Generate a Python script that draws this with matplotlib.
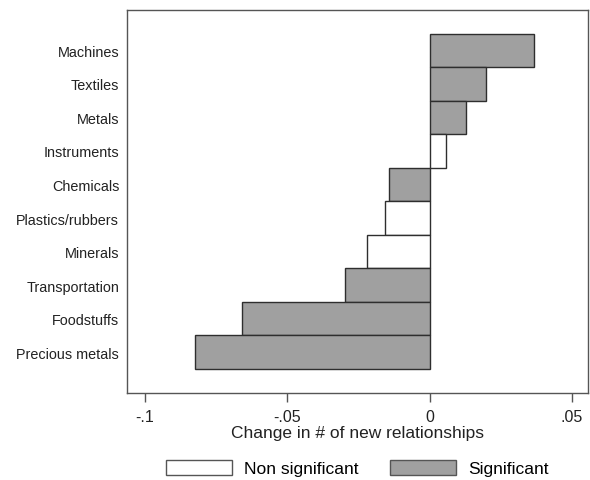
import matplotlib.pyplot as plt
from matplotlib.patches import Patch

plt.rcParams['font.family'] = ['Liberation Sans', 'DejaVu Sans']

# data (top to bottom)
sectors = ['Machines', 'Textiles', 'Metals', 'Instruments', 'Chemicals',
           'Plastics/rubbers', 'Minerals', 'Transportation', 'Foodstuffs',
           'Precious metals']
change = [0.0367, 0.0199, 0.0129, 0.0056, -0.0142,
          -0.0158, -0.0219, -0.0297, -0.0661, -0.0823]
significant = [True, True, True, False, True,
               False, False, True, True, True]

xticks = [-0.1, -0.05, 0, 0.05]
xticklabels = ['-.1', '-.05', '0', '.05']

gray = '#a0a0a0'
edge = '#2e2e2e'

fig = plt.figure(figsize=(5.9, 4.81), dpi=100)
ax = fig.add_axes([0.215, 0.181, 0.782, 0.797])

ypos = list(range(len(sectors)))
colors = [gray if s else 'white' for s in significant]
ax.barh(ypos, change, height=1.0, color=colors, edgecolor=edge, linewidth=1.0)

ax.set_yticks(ypos)
ax.set_yticklabels(sectors, fontsize=10.4, color='#222222')
ax.tick_params(axis='y', length=0, pad=5.5)
ax.set_ylim(-0.5 - 0.72, len(sectors) - 0.5 + 0.72)
ax.invert_yaxis()

ax.set_xlim(-0.1064, 0.0557)
ax.set_xticks(xticks)
ax.set_xticklabels(xticklabels, fontsize=11.5, color='#222222')
ax.tick_params(axis='x', length=6.5, width=1, color='#555555', pad=5)
ax.set_xlabel('Change in # of new relationships', fontsize=12.5,
              color='#222222', labelpad=1)

for sp in ax.spines.values():
    sp.set_color('#555555')
    sp.set_linewidth(1.0)

handles = [Patch(facecolor='white', edgecolor='#555555', label='Non significant'),
           Patch(facecolor=gray, edgecolor='#555555', label='Significant')]
fig.legend(handles=handles, loc='center', bbox_to_anchor=(0.606, 0.025),
           ncol=2, frameon=False, fontsize=12.5, handlelength=3.8,
           handleheight=1.0, handletextpad=0.7, columnspacing=1.8)

plt.savefig('out.png', dpi=100)
